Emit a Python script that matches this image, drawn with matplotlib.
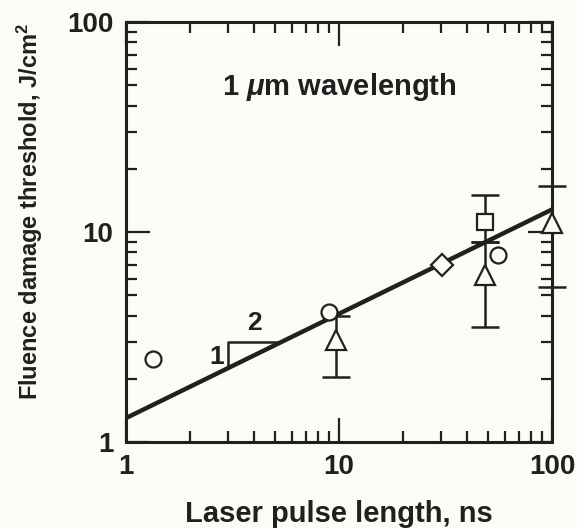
import matplotlib
matplotlib.use("Agg")
import matplotlib.pyplot as plt
from matplotlib.ticker import LogLocator, NullFormatter, FixedLocator, FixedFormatter

# ---- data ----
circle_x = [1.34, 9.0, 56.0]
circle_y = [2.48, 4.15, 7.8]

tri_x = [9.7, 48.5, 100.0]
tri_y = [3.06, 6.24, 11.0]
tri_lo = [2.04, 3.53, 5.47]
tri_hi = [4.0, 9.0, 16.6]

square_x = [48.5]
square_y = [11.2]
square_lo = [9.0]
square_hi = [15.0]

diamond_x = [30.5]
diamond_y = [6.96]

fit_x = [1.0, 100.0]
fit_y = [1.3, 12.8]

slope_x = [3.0, 3.0, 5.3]
slope_y = [2.25, 2.99, 2.99]

xticks = [1, 10, 100]
xticklabels = ["1", "10", "100"]
yticks = [1, 10, 100]
yticklabels = ["1", "10", "100"]

ink = "#231f20"
bg = "#fcfcf7"

plt.rcParams["font.family"] = ["Liberation Sans", "DejaVu Sans"]
plt.rcParams["font.weight"] = "bold"
plt.rcParams["axes.labelweight"] = "bold"
plt.rcParams["mathtext.fontset"] = "custom"
plt.rcParams["mathtext.it"] = "Liberation Sans:italic:bold"
plt.rcParams["mathtext.rm"] = "Liberation Sans:bold"

fig = plt.figure(figsize=(5.77, 5.28), dpi=100, facecolor=bg)
ax = fig.add_axes([126 / 577, 86 / 528, 426 / 577, 420 / 528])
ax.set_facecolor(bg)
ax.set_xscale("log")
ax.set_yscale("log")
ax.set_xlim(1, 100)
ax.set_ylim(1, 100)

# fit line
ax.plot(fit_x, fit_y, color=ink, lw=3.2, solid_capstyle="butt", zorder=3)
# slope triangle
ax.plot(slope_x, slope_y, color=ink, lw=1.8, zorder=3)
ax.text(2.67, 2.54, "1", fontsize=19, color=ink, ha="center", va="center",
        fontweight="bold")
ax.text(4.03, 3.69, "2", fontsize=19, color=ink, ha="center", va="center",
        fontweight="bold")

# error bars
def ebar(xs, ys, lo, hi):
    for x, y, l, h in zip(xs, ys, lo, hi):
        ax.errorbar([x], [y], yerr=[[y - l], [h - y]], fmt="none", ecolor=ink,
                    elinewidth=1.8, capsize=10, capthick=1.8, zorder=2, clip_on=False)

ebar(tri_x, tri_y, tri_lo, tri_hi)
ebar(square_x, square_y, square_lo, square_hi)

mk = dict(linestyle="none", markerfacecolor=bg, markeredgecolor=ink,
          markeredgewidth=1.6, zorder=5, clip_on=False)
ax.plot(circle_x, circle_y, marker="o", markersize=11.5, **mk)
ax.plot(tri_x, tri_y, marker="^", markersize=14, **mk)
ax.plot(square_x, square_y, marker="s", markersize=11, **mk)
ax.plot(diamond_x, diamond_y, marker="D", markersize=11, **mk)

ax.text(0.5, 0.845, r"1 $\mu$m wavelength", transform=ax.transAxes,
        fontsize=21, color=ink, ha="center", va="center", fontweight="bold")

# ticks
ax.xaxis.set_major_locator(FixedLocator(xticks))
ax.xaxis.set_major_formatter(FixedFormatter(xticklabels))
ax.yaxis.set_major_locator(FixedLocator(yticks))
ax.yaxis.set_major_formatter(FixedFormatter(yticklabels))
ax.xaxis.set_minor_locator(LogLocator(base=10, subs=range(2, 10)))
ax.yaxis.set_minor_locator(LogLocator(base=10, subs=range(2, 10)))
ax.xaxis.set_minor_formatter(NullFormatter())
ax.yaxis.set_minor_formatter(NullFormatter())
ax.tick_params(which="both", direction="in", top=True, right=True, colors=ink,
               width=1.6)
ax.tick_params(which="major", length=17, labelsize=20, pad=9)
ax.tick_params(which="minor", length=8)
for lab in ax.get_xticklabels() + ax.get_yticklabels():
    lab.set_fontweight("bold")
for s in ax.spines.values():
    s.set_linewidth(2.2)
    s.set_color(ink)

ax.set_xlabel("Laser pulse length, ns", fontsize=21, color=ink, labelpad=14,
              fontweight="bold")
ax.set_ylabel(r"Fluence damage threshold, J/cm$^2$", fontsize=17, color=ink,
              fontweight="bold")
ax.yaxis.set_label_coords(-0.19, 0.55)

fig.savefig("out.png", dpi=100, facecolor=bg)
